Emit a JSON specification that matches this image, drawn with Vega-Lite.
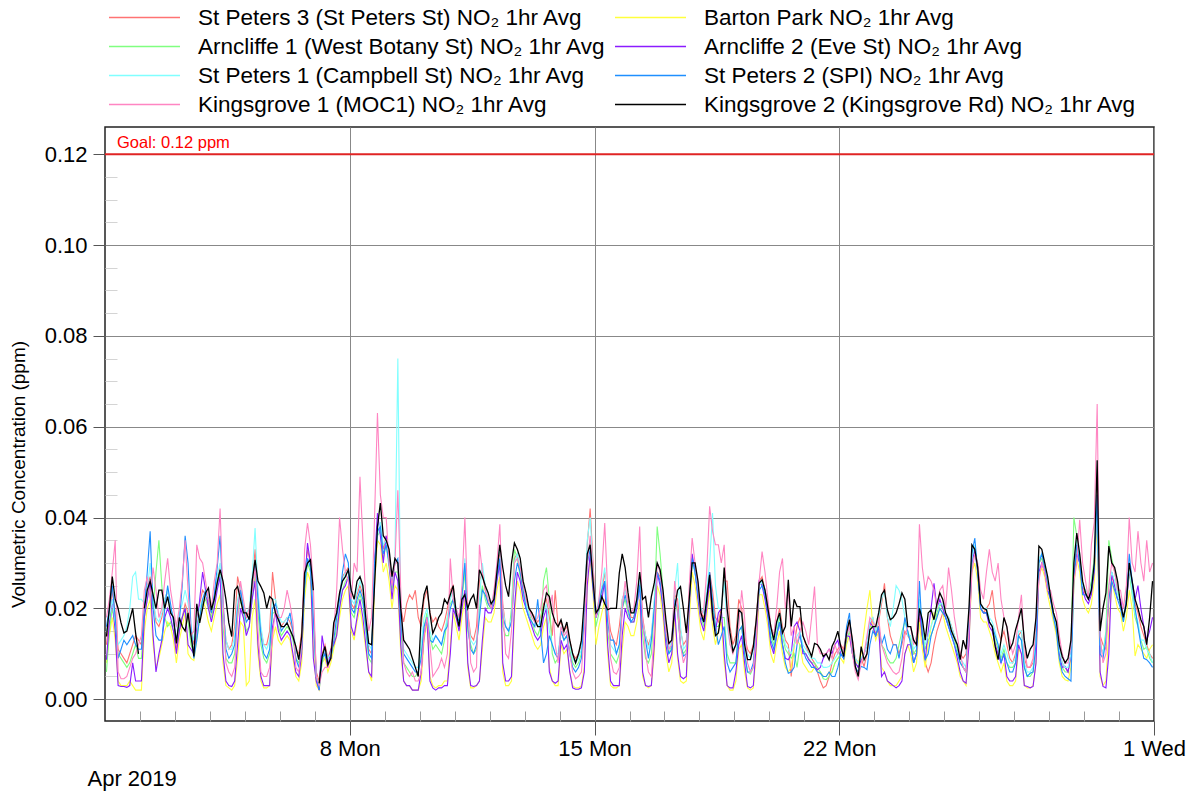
{
"$schema":"https://vega.github.io/schema/vega-lite/v6.json",
"width":1049,"height":594,
"autosize":{"type":"none"},
"padding":{"left":105,"top":127,"right":42,"bottom":73},
"background":"white",
"config":{"font":"Liberation Sans","view":{"stroke":"#222","strokeWidth":1.5},
"axis":{"labelFont":"Liberation Sans","titleFont":"Liberation Sans","labelColor":"#000","titleColor":"#000","titleFontWeight":"normal"}},
"layer":[
{"data":{"format":{"parse":{"t":"utc:'%Y-%m-%d %H'"}},"values":[
{"t":"2019-04-01 01","a":0.012,"b":0.008,"c":0.006,"d":0.0087,"e":0.015,"f":0.016,"g":0.018,"h":0.0138},
{"t":"2019-04-01 03","a":0.018,"b":0.014,"c":0.015,"d":0.017,"e":0.018,"f":0.020,"g":0.022,"h":0.020},
{"t":"2019-04-01 05","a":0.024,"b":0.018,"c":0.020,"d":0.022,"e":0.022,"f":0.025,"g":0.028,"h":0.027},
{"t":"2019-04-01 07","a":0.019,"b":0.013,"c":0.016,"d":0.015,"e":0.017,"f":0.018,"g":0.035,"h":0.022},
{"t":"2019-04-01 09","a":0.011,"b":0.004,"c":0.010,"d":0.003,"e":0.012,"f":0.009,"g":0.006,"h":0.020},
{"t":"2019-04-01 11","a":0.010,"b":0.003,"c":0.009,"d":0.0028,"e":0.013,"f":0.011,"g":0.0045,"h":0.0168},
{"t":"2019-04-01 13","a":0.009,"b":0.003,"c":0.008,"d":0.0028,"e":0.014,"f":0.013,"g":0.0045,"h":0.0146},
{"t":"2019-04-01 15","a":0.008,"b":0.003,"c":0.007,"d":0.0026,"e":0.016,"f":0.012,"g":0.005,"h":0.015},
{"t":"2019-04-01 17","a":0.010,"b":0.004,"c":0.008,"d":0.003,"e":0.020,"f":0.013,"g":0.007,"h":0.0175},
{"t":"2019-04-01 19","a":0.012,"b":0.003,"c":0.010,"d":0.008,"e":0.027,"f":0.014,"g":0.009,"h":0.020},
{"t":"2019-04-01 21","a":0.014,"b":0.002,"c":0.012,"d":0.004,"e":0.028,"f":0.012,"g":0.010,"h":0.0146},
{"t":"2019-04-01 23","a":0.013,"b":0.002,"c":0.009,"d":0.004,"e":0.022,"f":0.011,"g":0.012,"h":0.010},
{"t":"2019-04-02 01","a":0.012,"b":0.002,"c":0.009,"d":0.004,"e":0.022,"f":0.011,"g":0.014,"h":null},
{"t":"2019-04-02 03","a":0.020,"b":0.015,"c":0.018,"d":0.018,"e":0.021,"f":0.020,"g":0.024,"h":0.020},
{"t":"2019-04-02 05","a":0.025,"b":0.020,"c":0.022,"d":0.022,"e":0.024,"f":0.028,"g":0.027,"h":0.024},
{"t":"2019-04-02 07","a":0.027,"b":0.022,"c":0.025,"d":0.026,"e":0.030,"f":0.037,"g":0.022,"h":0.026},
{"t":"2019-04-02 09","a":0.022,"b":0.012,"c":0.020,"d":0.014,"e":0.022,"f":0.020,"g":0.029,"h":0.023},
{"t":"2019-04-02 11","a":0.017,"b":0.007,"c":0.028,"d":0.006,"e":0.018,"f":0.014,"g":0.024,"h":0.020},
{"t":"2019-04-02 13","a":0.016,"b":0.009,"c":0.035,"d":0.010,"e":0.017,"f":0.013,"g":0.018,"h":0.024},
{"t":"2019-04-02 15","a":0.018,"b":0.012,"c":0.025,"d":0.013,"e":0.019,"f":0.013,"g":0.020,"h":0.024},
{"t":"2019-04-02 17","a":0.022,"b":0.015,"c":0.018,"d":0.018,"e":0.022,"f":0.020,"g":0.026,"h":0.020},
{"t":"2019-04-02 19","a":0.024,"b":0.017,"c":0.016,"d":0.020,"e":0.024,"f":0.025,"g":0.031,"h":0.0226},
{"t":"2019-04-02 21","a":0.020,"b":0.016,"c":0.017,"d":0.018,"e":0.020,"f":0.021,"g":0.024,"h":0.019},
{"t":"2019-04-02 23","a":0.018,"b":0.013,"c":0.015,"d":0.015,"e":0.018,"f":0.017,"g":0.020,"h":0.018},
{"t":"2019-04-03 01","a":0.011,"b":0.008,"c":0.013,"d":0.010,"e":0.016,"f":0.013,"g":0.016,"h":0.0123},
{"t":"2019-04-03 03","a":0.015,"b":0.013,"c":0.016,"d":0.015,"e":0.019,"f":0.017,"g":0.020,"h":0.018},
{"t":"2019-04-03 05","a":0.018,"b":0.016,"c":0.018,"d":0.018,"e":0.021,"f":0.025,"g":0.026,"h":0.016},
{"t":"2019-04-03 07","a":0.021,"b":0.019,"c":0.020,"d":0.020,"e":0.024,"f":0.036,"g":0.035,"h":0.015},
{"t":"2019-04-03 09","a":0.019,"b":0.010,"c":0.017,"d":0.012,"e":0.021,"f":0.030,"g":0.024,"h":0.019},
{"t":"2019-04-03 11","a":0.015,"b":0.009,"c":0.012,"d":0.011,"e":0.016,"f":0.016,"g":0.014,"h":0.014},
{"t":"2019-04-03 13","a":0.012,"b":0.0085,"c":0.010,"d":0.010,"e":0.013,"f":0.009,"g":0.015,"h":0.0094},
{"t":"2019-04-03 15","a":0.017,"b":0.013,"c":0.014,"d":0.016,"e":0.017,"f":0.013,"g":0.034,"h":0.021},
{"t":"2019-04-03 17","a":0.021,"b":0.018,"c":0.018,"d":0.022,"e":0.020,"f":0.018,"g":0.031,"h":0.0168},
{"t":"2019-04-03 19","a":0.024,"b":0.022,"c":0.021,"d":0.028,"e":0.022,"f":0.022,"g":0.030,"h":0.020},
{"t":"2019-04-03 21","a":0.023,"b":0.020,"c":0.022,"d":0.024,"e":0.023,"f":0.024,"g":0.026,"h":0.0234},
{"t":"2019-04-03 23","a":0.021,"b":0.017,"c":0.020,"d":0.020,"e":0.022,"f":0.022,"g":0.022,"h":0.0245},
{"t":"2019-04-04 01","a":0.019,"b":0.015,"c":0.018,"d":0.017,"e":0.020,"f":0.019,"g":0.020,"h":0.0197},
{"t":"2019-04-04 03","a":0.022,"b":0.018,"c":0.021,"d":0.020,"e":0.023,"f":0.023,"g":0.026,"h":0.022},
{"t":"2019-04-04 05","a":0.026,"b":0.021,"c":0.025,"d":0.024,"e":0.027,"f":0.029,"g":0.030,"h":0.0256},
{"t":"2019-04-04 07","a":0.029,"b":0.023,"c":0.028,"d":0.027,"e":0.030,"f":0.036,"g":0.042,"h":0.0285},
{"t":"2019-04-04 09","a":0.020,"b":0.008,"c":0.016,"d":0.010,"e":0.020,"f":0.022,"g":0.022,"h":0.026},
{"t":"2019-04-04 11","a":0.013,"b":0.003,"c":0.009,"d":0.004,"e":0.013,"f":0.011,"g":0.008,"h":0.022},
{"t":"2019-04-04 13","a":0.011,"b":0.0025,"c":0.008,"d":0.003,"e":0.011,"f":0.009,"g":0.006,"h":0.0168},
{"t":"2019-04-04 15","a":0.012,"b":0.002,"c":0.008,"d":0.0028,"e":0.011,"f":0.010,"g":0.005,"h":0.0138},
{"t":"2019-04-04 17","a":0.016,"b":0.003,"c":0.010,"d":0.004,"e":0.014,"f":0.012,"g":0.007,"h":0.024},
{"t":"2019-04-04 19","a":0.027,"b":0.009,"c":0.018,"d":0.012,"e":0.022,"f":0.020,"g":0.018,"h":0.0248},
{"t":"2019-04-04 21","a":0.024,"b":0.017,"c":0.022,"d":0.020,"e":0.025,"f":0.024,"g":0.026,"h":0.022},
{"t":"2019-04-04 23","a":0.020,"b":0.016,"c":0.019,"d":0.018,"e":0.021,"f":0.020,"g":0.022,"h":0.019},
{"t":"2019-04-05 01","a":0.018,"b":0.003,"c":0.015,"d":0.014,"e":0.019,"f":0.017,"g":0.018,"h":0.019},
{"t":"2019-04-05 03","a":0.019,"b":0.004,"c":0.016,"d":0.016,"e":0.020,"f":0.018,"g":0.020,"h":0.0175},
{"t":"2019-04-05 05","a":0.025,"b":0.018,"c":0.022,"d":0.022,"e":0.027,"f":0.024,"g":0.024,"h":0.026},
{"t":"2019-04-05 07","a":0.033,"b":0.022,"c":0.027,"d":0.026,"e":0.0377,"f":0.030,"g":0.029,"h":0.0307},
{"t":"2019-04-05 09","a":0.023,"b":0.010,"c":0.019,"d":0.012,"e":0.024,"f":0.022,"g":0.015,"h":0.026},
{"t":"2019-04-05 11","a":0.015,"b":0.004,"c":0.012,"d":0.005,"e":0.016,"f":0.014,"g":0.006,"h":0.0248},
{"t":"2019-04-05 13","a":0.012,"b":0.0025,"c":0.009,"d":0.003,"e":0.012,"f":0.010,"g":0.005,"h":0.0234},
{"t":"2019-04-05 15","a":0.012,"b":0.0025,"c":0.008,"d":0.003,"e":0.011,"f":0.009,"g":0.005,"h":0.020},
{"t":"2019-04-05 17","a":0.015,"b":0.003,"c":0.010,"d":0.003,"e":0.013,"f":0.011,"g":0.007,"h":0.0226},
{"t":"2019-04-05 19","a":0.028,"b":0.013,"c":0.019,"d":0.016,"e":0.022,"f":0.020,"g":0.014,"h":0.022},
{"t":"2019-04-05 21","a":0.022,"b":0.016,"c":0.019,"d":0.019,"e":0.022,"f":0.021,"g":0.020,"h":0.019},
{"t":"2019-04-05 23","a":0.018,"b":0.013,"c":0.016,"d":0.015,"e":0.019,"f":0.018,"g":0.018,"h":0.0175},
{"t":"2019-04-06 01","a":0.016,"b":0.012,"c":0.014,"d":0.013,"e":0.017,"f":0.015,"g":0.018,"h":0.016},
{"t":"2019-04-06 03","a":0.017,"b":0.013,"c":0.015,"d":0.014,"e":0.017,"f":0.016,"g":0.020,"h":0.016},
{"t":"2019-04-06 05","a":0.018,"b":0.014,"c":0.016,"d":0.015,"e":0.018,"f":0.017,"g":0.024,"h":0.0168},
{"t":"2019-04-06 07","a":0.017,"b":0.013,"c":0.015,"d":0.014,"e":0.018,"f":0.019,"g":0.021,"h":0.0153},
{"t":"2019-04-06 09","a":0.015,"b":0.009,"c":0.013,"d":0.010,"e":0.016,"f":0.015,"g":0.017,"h":0.0138},
{"t":"2019-04-06 11","a":0.011,"b":0.005,"c":0.009,"d":0.006,"e":0.011,"f":0.009,"g":0.007,"h":0.0116},
{"t":"2019-04-06 13","a":0.010,"b":0.004,"c":0.008,"d":0.005,"e":0.009,"f":0.007,"g":0.006,"h":0.0087},
{"t":"2019-04-06 15","a":0.015,"b":0.008,"c":0.011,"d":0.010,"e":0.013,"f":0.011,"g":0.012,"h":0.0138},
{"t":"2019-04-06 17","a":0.027,"b":0.022,"c":0.024,"d":0.025,"e":0.026,"f":0.025,"g":0.033,"h":0.0278},
{"t":"2019-04-06 19","a":0.033,"b":0.028,"c":0.030,"d":0.0344,"e":0.031,"f":0.031,"g":0.0388,"h":0.030},
{"t":"2019-04-06 21","a":0.030,"b":0.026,"c":0.028,"d":0.030,"e":0.029,"f":0.029,"g":0.034,"h":0.0307},
{"t":"2019-04-06 23","a":0.021,"b":0.011,"c":0.017,"d":0.009,"e":0.020,"f":0.018,"g":0.025,"h":0.024},
{"t":"2019-04-07 01","a":0.006,"b":0.003,"c":0.005,"d":0.004,"e":0.005,"f":0.005,"g":0.005,"h":null},
{"t":"2019-04-07 03","a":0.004,"b":0.002,"c":0.003,"d":0.002,"e":0.003,"f":0.002,"g":0.003,"h":0.0035},
{"t":"2019-04-07 05","a":0.010,"b":0.008,"c":0.008,"d":0.014,"e":0.009,"f":0.009,"g":0.006,"h":0.0094},
{"t":"2019-04-07 07","a":0.012,"b":0.009,"c":0.010,"d":0.010,"e":0.011,"f":0.010,"g":0.007,"h":0.0116},
{"t":"2019-04-07 09","a":0.009,"b":0.006,"c":0.008,"d":0.007,"e":0.009,"f":0.008,"g":0.007,"h":0.0076},
{"t":"2019-04-07 11","a":0.011,"b":0.008,"c":0.009,"d":0.011,"e":0.010,"f":0.009,"g":0.009,"h":0.009},
{"t":"2019-04-07 13","a":0.015,"b":0.011,"c":0.012,"d":0.012,"e":0.014,"f":0.013,"g":0.015,"h":0.0168},
{"t":"2019-04-07 15","a":0.019,"b":0.014,"c":0.016,"d":0.014,"e":0.018,"f":0.018,"g":0.024,"h":0.019},
{"t":"2019-04-07 17","a":0.023,"b":0.018,"c":0.020,"d":0.020,"e":0.022,"f":0.022,"g":0.040,"h":0.0234},
{"t":"2019-04-07 19","a":0.027,"b":0.022,"c":0.024,"d":0.024,"e":0.026,"f":0.028,"g":0.033,"h":0.026},
{"t":"2019-04-07 21","a":0.028,"b":0.024,"c":0.026,"d":0.025,"e":0.028,"f":0.032,"g":0.028,"h":0.027},
{"t":"2019-04-07 23","a":0.029,"b":0.025,"c":0.027,"d":0.027,"e":0.028,"f":0.030,"g":0.026,"h":0.0285},
{"t":"2019-04-08 01","a":0.021,"b":0.015,"c":0.019,"d":0.016,"e":0.022,"f":0.020,"g":0.022,"h":0.024},
{"t":"2019-04-08 03","a":0.020,"b":0.013,"c":0.018,"d":0.014,"e":0.021,"f":0.019,"g":0.030,"h":0.022},
{"t":"2019-04-08 05","a":0.023,"b":0.017,"c":0.021,"d":0.018,"e":0.024,"f":0.022,"g":0.028,"h":0.026},
{"t":"2019-04-08 07","a":0.025,"b":0.020,"c":0.023,"d":0.022,"e":0.026,"f":0.024,"g":0.049,"h":0.027},
{"t":"2019-04-08 09","a":0.023,"b":0.016,"c":0.021,"d":0.018,"e":0.024,"f":0.022,"g":0.035,"h":0.025},
{"t":"2019-04-08 11","a":0.017,"b":0.011,"c":0.015,"d":0.012,"e":0.018,"f":0.016,"g":0.022,"h":0.018},
{"t":"2019-04-08 13","a":0.011,"b":0.006,"c":0.009,"d":0.006,"e":0.012,"f":0.010,"g":0.015,"h":0.0123},
{"t":"2019-04-08 15","a":0.010,"b":0.004,"c":0.008,"d":0.005,"e":0.011,"f":0.009,"g":0.018,"h":0.012},
{"t":"2019-04-08 17","a":0.028,"b":0.025,"c":0.028,"d":0.030,"e":0.029,"f":0.030,"g":0.040,"h":0.025},
{"t":"2019-04-08 19","a":0.037,"b":0.035,"c":0.036,"d":0.041,"e":0.036,"f":0.037,"g":0.063,"h":0.038},
{"t":"2019-04-08 21","a":0.038,"b":0.034,"c":0.037,"d":0.036,"e":0.039,"f":0.038,"g":0.045,"h":0.0432},
{"t":"2019-04-08 23","a":0.033,"b":0.028,"c":0.031,"d":0.030,"e":0.034,"f":0.032,"g":0.040,"h":0.036},
{"t":"2019-04-09 01","a":0.036,"b":0.030,"c":0.034,"d":0.036,"e":0.035,"f":0.034,"g":0.040,"h":0.035},
{"t":"2019-04-09 03","a":0.031,"b":0.026,"c":0.029,"d":0.030,"e":0.030,"f":0.030,"g":0.030,"h":0.033},
{"t":"2019-04-09 05","a":0.026,"b":0.020,"c":0.024,"d":0.022,"e":0.026,"f":0.025,"g":0.025,"h":0.027},
{"t":"2019-04-09 07","a":0.030,"b":0.025,"c":0.028,"d":0.028,"e":0.031,"f":0.030,"g":0.030,"h":0.031},
{"t":"2019-04-09 09","a":0.030,"b":0.024,"c":0.028,"d":0.026,"e":0.075,"f":0.031,"g":0.046,"h":0.030},
{"t":"2019-04-09 11","a":0.020,"b":0.010,"c":0.015,"d":0.012,"e":0.018,"f":0.017,"g":0.024,"h":0.020},
{"t":"2019-04-09 13","a":0.017,"b":0.004,"c":0.008,"d":0.004,"e":0.011,"f":0.010,"g":0.008,"h":0.013},
{"t":"2019-04-09 15","a":0.021,"b":0.003,"c":0.007,"d":0.003,"e":0.010,"f":0.009,"g":0.006,"h":0.012},
{"t":"2019-04-09 17","a":0.023,"b":0.003,"c":0.006,"d":0.003,"e":0.009,"f":0.008,"g":0.005,"h":0.011},
{"t":"2019-04-09 19","a":0.022,"b":0.002,"c":0.005,"d":0.002,"e":0.008,"f":0.007,"g":0.006,"h":0.009},
{"t":"2019-04-09 21","a":0.024,"b":0.002,"c":0.005,"d":0.002,"e":0.007,"f":0.006,"g":0.004,"h":0.007},
{"t":"2019-04-09 23","a":0.018,"b":0.002,"c":0.006,"d":0.002,"e":0.007,"f":0.006,"g":0.004,"h":0.005},
{"t":"2019-04-10 01","a":0.016,"b":0.004,"c":0.010,"d":0.006,"e":0.012,"f":0.009,"g":0.006,"h":0.018},
{"t":"2019-04-10 03","a":0.022,"b":0.013,"c":0.016,"d":0.014,"e":0.018,"f":0.016,"g":0.014,"h":0.023},
{"t":"2019-04-10 05","a":0.024,"b":0.017,"c":0.019,"d":0.018,"e":0.020,"f":0.018,"g":0.018,"h":0.025},
{"t":"2019-04-10 07","a":0.019,"b":0.005,"c":0.014,"d":0.004,"e":0.015,"f":0.013,"g":0.012,"h":0.019},
{"t":"2019-04-10 09","a":0.017,"b":0.003,"c":0.011,"d":0.0025,"e":0.013,"f":0.0125,"g":0.005,"h":0.0145},
{"t":"2019-04-10 11","a":0.018,"b":0.0025,"c":0.012,"d":0.002,"e":0.014,"f":0.014,"g":0.006,"h":0.016},
{"t":"2019-04-10 13","a":0.016,"b":0.003,"c":0.011,"d":0.0025,"e":0.013,"f":0.013,"g":0.007,"h":0.018},
{"t":"2019-04-10 15","a":0.015,"b":0.003,"c":0.010,"d":0.0025,"e":0.012,"f":0.012,"g":0.009,"h":0.019},
{"t":"2019-04-10 17","a":0.017,"b":0.004,"c":0.013,"d":0.003,"e":0.015,"f":0.015,"g":0.007,"h":0.022},
{"t":"2019-04-10 19","a":0.020,"b":0.004,"c":0.018,"d":0.003,"e":0.018,"f":0.016,"g":0.010,"h":0.021},
{"t":"2019-04-10 21","a":0.024,"b":0.012,"c":0.021,"d":0.010,"e":0.022,"f":0.020,"g":0.031,"h":0.023},
{"t":"2019-04-10 23","a":0.025,"b":0.019,"c":0.022,"d":0.020,"e":0.024,"f":0.022,"g":0.022,"h":0.025},
{"t":"2019-04-11 01","a":0.019,"b":0.016,"c":0.018,"d":0.018,"e":0.020,"f":0.019,"g":0.020,"h":0.019},
{"t":"2019-04-11 03","a":0.018,"b":0.013,"c":0.016,"d":0.015,"e":0.018,"f":0.017,"g":0.018,"h":0.016},
{"t":"2019-04-11 05","a":0.023,"b":0.018,"c":0.022,"d":0.020,"e":0.024,"f":0.023,"g":0.025,"h":0.022},
{"t":"2019-04-11 07","a":0.029,"b":0.022,"c":0.028,"d":0.024,"e":0.031,"f":0.030,"g":0.040,"h":0.023},
{"t":"2019-04-11 09","a":0.019,"b":0.007,"c":0.015,"d":0.008,"e":0.018,"f":0.016,"g":0.020,"h":0.020},
{"t":"2019-04-11 11","a":0.014,"b":0.0025,"c":0.012,"d":0.003,"e":0.013,"f":0.011,"g":0.008,"h":0.022},
{"t":"2019-04-11 13","a":0.013,"b":0.0025,"c":0.010,"d":0.0028,"e":0.012,"f":0.010,"g":0.006,"h":0.023},
{"t":"2019-04-11 15","a":0.016,"b":0.003,"c":0.011,"d":0.003,"e":0.013,"f":0.012,"g":0.007,"h":0.020},
{"t":"2019-04-11 17","a":0.026,"b":0.004,"c":0.020,"d":0.004,"e":0.022,"f":0.018,"g":0.034,"h":0.0285},
{"t":"2019-04-11 19","a":0.028,"b":0.011,"c":0.025,"d":0.013,"e":0.030,"f":0.024,"g":0.028,"h":0.027},
{"t":"2019-04-11 21","a":0.024,"b":0.018,"c":0.022,"d":0.020,"e":0.025,"f":0.023,"g":0.024,"h":0.025},
{"t":"2019-04-11 23","a":0.021,"b":0.017,"c":0.020,"d":0.019,"e":0.022,"f":0.021,"g":0.022,"h":0.0234},
{"t":"2019-04-12 01","a":0.020,"b":0.017,"c":0.020,"d":0.019,"e":0.021,"f":0.020,"g":0.020,"h":0.021},
{"t":"2019-04-12 03","a":0.022,"b":0.019,"c":0.022,"d":0.021,"e":0.023,"f":0.022,"g":0.024,"h":0.022},
{"t":"2019-04-12 05","a":0.028,"b":0.024,"c":0.027,"d":0.026,"e":0.029,"f":0.027,"g":0.030,"h":0.028},
{"t":"2019-04-12 07","a":0.033,"b":0.027,"c":0.030,"d":0.030,"e":0.034,"f":0.031,"g":0.0385,"h":0.034},
{"t":"2019-04-12 09","a":0.021,"b":0.006,"c":0.016,"d":0.008,"e":0.020,"f":0.018,"g":0.020,"h":0.029},
{"t":"2019-04-12 11","a":0.016,"b":0.003,"c":0.014,"d":0.004,"e":0.016,"f":0.016,"g":0.010,"h":0.025},
{"t":"2019-04-12 13","a":0.015,"b":0.003,"c":0.014,"d":0.004,"e":0.015,"f":0.015,"g":0.009,"h":0.0226},
{"t":"2019-04-12 15","a":0.018,"b":0.004,"c":0.020,"d":0.005,"e":0.018,"f":0.017,"g":0.015,"h":0.030},
{"t":"2019-04-12 17","a":0.031,"b":0.018,"c":0.033,"d":0.020,"e":0.030,"f":0.026,"g":0.030,"h":0.0344},
{"t":"2019-04-12 19","a":0.032,"b":0.026,"c":0.031,"d":0.028,"e":0.032,"f":0.030,"g":0.031,"h":0.033},
{"t":"2019-04-12 21","a":0.028,"b":0.024,"c":0.027,"d":0.026,"e":0.029,"f":0.028,"g":0.029,"h":0.031},
{"t":"2019-04-12 23","a":0.024,"b":0.020,"c":0.023,"d":0.022,"e":0.025,"f":0.024,"g":0.025,"h":0.026},
{"t":"2019-04-13 01","a":0.022,"b":0.018,"c":0.021,"d":0.020,"e":0.021,"f":0.020,"g":0.022,"h":0.0234},
{"t":"2019-04-13 03","a":0.020,"b":0.016,"c":0.019,"d":0.018,"e":0.019,"f":0.018,"g":0.020,"h":0.020},
{"t":"2019-04-13 05","a":0.019,"b":0.014,"c":0.017,"d":0.016,"e":0.018,"f":0.017,"g":0.018,"h":0.019},
{"t":"2019-04-13 07","a":0.018,"b":0.012,"c":0.015,"d":0.014,"e":0.017,"f":0.016,"g":0.017,"h":0.0175},
{"t":"2019-04-13 09","a":0.017,"b":0.011,"c":0.014,"d":0.013,"e":0.016,"f":0.022,"g":0.018,"h":0.016},
{"t":"2019-04-13 11","a":0.018,"b":0.012,"c":0.016,"d":0.014,"e":0.017,"f":0.015,"g":0.020,"h":0.016},
{"t":"2019-04-13 13","a":0.021,"b":0.016,"c":0.026,"d":0.018,"e":0.019,"f":0.008,"g":0.024,"h":0.020},
{"t":"2019-04-13 15","a":0.022,"b":0.018,"c":0.029,"d":0.020,"e":0.021,"f":0.010,"g":0.025,"h":0.0234},
{"t":"2019-04-13 17","a":0.018,"b":0.007,"c":0.022,"d":0.006,"e":0.015,"f":0.014,"g":0.020,"h":0.0226},
{"t":"2019-04-13 19","a":0.014,"b":0.004,"c":0.010,"d":0.004,"e":0.012,"f":0.012,"g":0.023,"h":0.019},
{"t":"2019-04-13 21","a":0.024,"b":0.003,"c":0.008,"d":0.0035,"e":0.010,"f":0.010,"g":0.012,"h":0.017},
{"t":"2019-04-13 23","a":0.016,"b":0.003,"c":0.009,"d":0.004,"e":0.010,"f":0.009,"g":0.008,"h":0.016},
{"t":"2019-04-14 01","a":0.017,"b":0.012,"c":0.015,"d":0.013,"e":0.016,"f":0.015,"g":0.016,"h":0.0175},
{"t":"2019-04-14 03","a":0.015,"b":0.010,"c":0.013,"d":0.011,"e":0.014,"f":0.013,"g":0.014,"h":0.015},
{"t":"2019-04-14 05","a":0.016,"b":0.011,"c":0.014,"d":0.012,"e":0.015,"f":0.014,"g":0.015,"h":0.017},
{"t":"2019-04-14 07","a":0.013,"b":0.006,"c":0.011,"d":0.006,"e":0.012,"f":0.010,"g":0.010,"h":0.013},
{"t":"2019-04-14 09","a":0.010,"b":0.003,"c":0.008,"d":0.0025,"e":0.009,"f":0.007,"g":0.006,"h":0.010},
{"t":"2019-04-14 11","a":0.009,"b":0.0025,"c":0.007,"d":0.0022,"e":0.008,"f":0.006,"g":0.0045,"h":0.008},
{"t":"2019-04-14 13","a":0.010,"b":0.0025,"c":0.008,"d":0.0022,"e":0.009,"f":0.007,"g":0.005,"h":0.010},
{"t":"2019-04-14 15","a":0.012,"b":0.003,"c":0.010,"d":0.0025,"e":0.011,"f":0.009,"g":0.006,"h":0.013},
{"t":"2019-04-14 17","a":0.020,"b":0.007,"c":0.018,"d":0.006,"e":0.020,"f":0.018,"g":0.015,"h":0.022},
{"t":"2019-04-14 19","a":0.034,"b":0.024,"c":0.030,"d":0.025,"e":0.035,"f":0.030,"g":0.030,"h":0.032},
{"t":"2019-04-14 21","a":0.042,"b":0.031,"c":0.035,"d":0.032,"e":0.040,"f":0.033,"g":0.036,"h":0.034},
{"t":"2019-04-14 23","a":0.030,"b":0.023,"c":0.026,"d":0.024,"e":0.028,"f":0.025,"g":0.028,"h":0.026},
{"t":"2019-04-15 01","a":0.018,"b":0.012,"c":0.016,"d":0.018,"e":0.019,"f":0.018,"g":0.018,"h":0.019},
{"t":"2019-04-15 03","a":0.021,"b":0.016,"c":0.019,"d":0.020,"e":0.022,"f":0.021,"g":0.022,"h":0.020},
{"t":"2019-04-15 05","a":0.024,"b":0.019,"c":0.023,"d":0.022,"e":0.025,"f":0.024,"g":0.028,"h":0.0226},
{"t":"2019-04-15 07","a":0.028,"b":0.022,"c":0.026,"d":0.026,"e":0.029,"f":0.026,"g":0.0388,"h":0.021},
{"t":"2019-04-15 09","a":0.020,"b":0.010,"c":0.015,"d":0.012,"e":0.018,"f":0.017,"g":0.024,"h":0.0197},
{"t":"2019-04-15 11","a":0.015,"b":0.003,"c":0.010,"d":0.004,"e":0.012,"f":0.013,"g":0.009,"h":0.020},
{"t":"2019-04-15 13","a":0.013,"b":0.0025,"c":0.009,"d":0.003,"e":0.011,"f":0.013,"g":0.006,"h":0.020},
{"t":"2019-04-15 15","a":0.012,"b":0.0025,"c":0.008,"d":0.003,"e":0.010,"f":0.010,"g":0.0055,"h":0.020},
{"t":"2019-04-15 17","a":0.016,"b":0.003,"c":0.010,"d":0.003,"e":0.012,"f":0.012,"g":0.007,"h":0.0278},
{"t":"2019-04-15 19","a":0.022,"b":0.011,"c":0.020,"d":0.014,"e":0.022,"f":0.020,"g":0.020,"h":0.032},
{"t":"2019-04-15 21","a":0.024,"b":0.017,"c":0.022,"d":0.020,"e":0.024,"f":0.023,"g":0.026,"h":0.029},
{"t":"2019-04-15 23","a":0.022,"b":0.016,"c":0.019,"d":0.018,"e":0.021,"f":0.020,"g":0.020,"h":0.0234},
{"t":"2019-04-16 01","a":0.018,"b":0.014,"c":0.017,"d":0.017,"e":0.019,"f":0.017,"g":0.019,"h":0.019},
{"t":"2019-04-16 03","a":0.018,"b":0.014,"c":0.017,"d":0.017,"e":0.019,"f":0.018,"g":0.020,"h":0.019},
{"t":"2019-04-16 05","a":0.021,"b":0.017,"c":0.020,"d":0.020,"e":0.022,"f":0.021,"g":0.026,"h":0.022},
{"t":"2019-04-16 07","a":0.027,"b":0.022,"c":0.026,"d":0.026,"e":0.027,"f":0.025,"g":0.038,"h":0.028},
{"t":"2019-04-16 09","a":0.018,"b":0.005,"c":0.014,"d":0.006,"e":0.017,"f":0.016,"g":0.018,"h":0.022},
{"t":"2019-04-16 11","a":0.014,"b":0.003,"c":0.009,"d":0.003,"e":0.014,"f":0.013,"g":0.010,"h":0.0226},
{"t":"2019-04-16 13","a":0.012,"b":0.0025,"c":0.008,"d":0.0028,"e":0.011,"f":0.009,"g":0.006,"h":0.018},
{"t":"2019-04-16 15","a":0.014,"b":0.003,"c":0.010,"d":0.003,"e":0.014,"f":0.013,"g":0.005,"h":0.0226},
{"t":"2019-04-16 17","a":0.021,"b":0.010,"c":0.020,"d":0.012,"e":0.022,"f":0.020,"g":0.015,"h":0.0256},
{"t":"2019-04-16 19","a":0.028,"b":0.025,"c":0.038,"d":0.028,"e":0.030,"f":0.028,"g":0.030,"h":0.030},
{"t":"2019-04-16 21","a":0.027,"b":0.023,"c":0.032,"d":0.025,"e":0.028,"f":0.026,"g":0.028,"h":0.0285},
{"t":"2019-04-16 23","a":0.022,"b":0.018,"c":0.024,"d":0.020,"e":0.022,"f":0.021,"g":0.022,"h":0.024},
{"t":"2019-04-17 01","a":0.016,"b":0.010,"c":0.014,"d":0.012,"e":0.015,"f":0.014,"g":0.015,"h":0.0175},
{"t":"2019-04-17 03","a":0.012,"b":0.006,"c":0.010,"d":0.008,"e":0.011,"f":0.010,"g":0.011,"h":0.0123},
{"t":"2019-04-17 05","a":0.013,"b":0.008,"c":0.012,"d":0.010,"e":0.013,"f":0.011,"g":0.012,"h":0.013},
{"t":"2019-04-17 07","a":0.023,"b":0.018,"c":0.022,"d":0.020,"e":0.024,"f":0.022,"g":0.026,"h":0.020},
{"t":"2019-04-17 09","a":0.022,"b":0.009,"c":0.019,"d":0.010,"e":0.030,"f":0.020,"g":0.020,"h":0.024},
{"t":"2019-04-17 11","a":0.015,"b":0.004,"c":0.012,"d":0.005,"e":0.016,"f":0.012,"g":0.012,"h":0.0248},
{"t":"2019-04-17 13","a":0.012,"b":0.0035,"c":0.010,"d":0.0045,"e":0.011,"f":0.0095,"g":0.008,"h":0.020},
{"t":"2019-04-17 15","a":0.013,"b":0.004,"c":0.011,"d":0.005,"e":0.012,"f":0.010,"g":0.010,"h":0.0146},
{"t":"2019-04-17 17","a":0.023,"b":0.017,"c":0.022,"d":0.020,"e":0.022,"f":0.022,"g":0.025,"h":0.022},
{"t":"2019-04-17 19","a":0.031,"b":0.028,"c":0.031,"d":0.032,"e":0.030,"f":0.031,"g":0.0355,"h":0.030},
{"t":"2019-04-17 21","a":0.029,"b":0.025,"c":0.028,"d":0.028,"e":0.028,"f":0.028,"g":0.030,"h":0.030},
{"t":"2019-04-17 23","a":0.024,"b":0.020,"c":0.023,"d":0.022,"e":0.024,"f":0.023,"g":0.025,"h":0.026},
{"t":"2019-04-18 01","a":0.019,"b":0.015,"c":0.018,"d":0.017,"e":0.020,"f":0.018,"g":0.018,"h":0.019},
{"t":"2019-04-18 03","a":0.018,"b":0.013,"c":0.016,"d":0.015,"e":0.019,"f":0.017,"g":0.020,"h":0.017},
{"t":"2019-04-18 05","a":0.022,"b":0.018,"c":0.021,"d":0.020,"e":0.024,"f":0.022,"g":0.028,"h":0.022},
{"t":"2019-04-18 07","a":0.028,"b":0.024,"c":0.027,"d":0.026,"e":0.030,"f":0.028,"g":0.0425,"h":0.0274},
{"t":"2019-04-18 09","a":0.024,"b":0.016,"c":0.021,"d":0.018,"e":0.041,"f":0.022,"g":0.037,"h":0.019},
{"t":"2019-04-18 11","a":0.018,"b":0.012,"c":0.016,"d":0.015,"e":0.025,"f":0.016,"g":0.034,"h":0.014},
{"t":"2019-04-18 13","a":0.017,"b":0.015,"c":0.016,"d":0.019,"e":0.020,"f":0.012,"g":0.034,"h":0.0146},
{"t":"2019-04-18 15","a":0.020,"b":0.017,"c":0.018,"d":0.020,"e":0.020,"f":0.014,"g":0.030,"h":0.019},
{"t":"2019-04-18 17","a":0.026,"b":0.008,"c":0.018,"d":0.010,"e":0.026,"f":0.016,"g":0.034,"h":0.029},
{"t":"2019-04-18 19","a":0.026,"b":0.003,"c":0.010,"d":0.003,"e":0.016,"f":0.008,"g":0.018,"h":0.020},
{"t":"2019-04-18 21","a":0.016,"b":0.002,"c":0.008,"d":0.0025,"e":0.012,"f":0.006,"g":0.012,"h":0.0146},
{"t":"2019-04-18 23","a":0.012,"b":0.002,"c":0.008,"d":0.0025,"e":0.011,"f":0.007,"g":0.010,"h":0.0105},
{"t":"2019-04-19 01","a":0.014,"b":0.004,"c":0.008,"d":0.006,"e":0.012,"f":0.008,"g":0.012,"h":0.012},
{"t":"2019-04-19 03","a":0.022,"b":0.011,"c":0.015,"d":0.012,"e":0.019,"f":0.015,"g":0.016,"h":0.0197},
{"t":"2019-04-19 05","a":0.020,"b":0.012,"c":0.016,"d":0.014,"e":0.019,"f":0.016,"g":0.024,"h":0.019},
{"t":"2019-04-19 07","a":0.014,"b":0.006,"c":0.010,"d":0.008,"e":0.013,"f":0.010,"g":0.018,"h":0.012},
{"t":"2019-04-19 09","a":0.011,"b":0.0025,"c":0.006,"d":0.0028,"e":0.010,"f":0.006,"g":0.008,"h":0.0087},
{"t":"2019-04-19 11","a":0.010,"b":0.002,"c":0.0055,"d":0.0025,"e":0.009,"f":0.006,"g":0.006,"h":0.0087},
{"t":"2019-04-19 13","a":0.012,"b":0.0025,"c":0.007,"d":0.003,"e":0.011,"f":0.008,"g":0.007,"h":0.0116},
{"t":"2019-04-19 15","a":0.018,"b":0.010,"c":0.015,"d":0.012,"e":0.017,"f":0.016,"g":0.014,"h":0.0175},
{"t":"2019-04-19 17","a":0.026,"b":0.023,"c":0.025,"d":0.026,"e":0.025,"f":0.024,"g":0.026,"h":0.0256},
{"t":"2019-04-19 19","a":0.027,"b":0.023,"c":0.026,"d":0.025,"e":0.026,"f":0.025,"g":0.0325,"h":0.0263},
{"t":"2019-04-19 21","a":0.024,"b":0.020,"c":0.023,"d":0.022,"e":0.024,"f":0.023,"g":0.028,"h":0.024},
{"t":"2019-04-19 23","a":0.021,"b":0.016,"c":0.019,"d":0.018,"e":0.020,"f":0.019,"g":0.022,"h":0.020},
{"t":"2019-04-20 01","a":0.016,"b":0.010,"c":0.014,"d":0.012,"e":0.015,"f":0.013,"g":0.016,"h":0.016},
{"t":"2019-04-20 03","a":0.014,"b":0.008,"c":0.012,"d":0.010,"e":0.013,"f":0.011,"g":0.014,"h":0.013},
{"t":"2019-04-20 05","a":0.017,"b":0.012,"c":0.015,"d":0.014,"e":0.016,"f":0.014,"g":0.020,"h":0.017},
{"t":"2019-04-20 07","a":0.020,"b":0.015,"c":0.018,"d":0.017,"e":0.019,"f":0.017,"g":0.028,"h":0.019},
{"t":"2019-04-20 09","a":0.016,"b":0.010,"c":0.014,"d":0.012,"e":0.015,"f":0.012,"g":0.031,"h":0.0146},
{"t":"2019-04-20 11","a":0.013,"b":0.007,"c":0.011,"d":0.009,"e":0.012,"f":0.008,"g":0.020,"h":0.016},
{"t":"2019-04-20 13","a":0.012,"b":0.006,"c":0.010,"d":0.0087,"e":0.011,"f":0.0057,"g":0.024,"h":0.0263},
{"t":"2019-04-20 15","a":0.005,"b":0.007,"c":0.009,"d":0.010,"e":0.010,"f":0.006,"g":0.014,"h":0.016},
{"t":"2019-04-20 17","a":0.012,"b":0.012,"c":0.010,"d":0.016,"e":0.012,"f":0.007,"g":0.016,"h":0.022},
{"t":"2019-04-20 19","a":0.016,"b":0.013,"c":0.007,"d":0.017,"e":0.014,"f":0.012,"g":0.012,"h":0.0204},
{"t":"2019-04-20 21","a":0.018,"b":0.012,"c":0.012,"d":0.015,"e":0.015,"f":0.014,"g":0.015,"h":0.0204},
{"t":"2019-04-20 23","a":0.014,"b":0.008,"c":0.011,"d":0.010,"e":0.012,"f":0.011,"g":0.017,"h":0.014},
{"t":"2019-04-21 01","a":0.012,"b":0.007,"c":0.010,"d":0.010,"e":0.011,"f":0.009,"g":0.015,"h":0.0123},
{"t":"2019-04-21 03","a":0.010,"b":0.006,"c":0.009,"d":0.0087,"e":0.010,"f":0.008,"g":0.012,"h":0.011},
{"t":"2019-04-21 05","a":0.009,"b":0.006,"c":0.008,"d":0.008,"e":0.009,"f":0.007,"g":0.018,"h":0.0094},
{"t":"2019-04-21 07","a":0.008,"b":0.007,"c":0.008,"d":0.007,"e":0.009,"f":0.007,"g":0.0248,"h":0.0123},
{"t":"2019-04-21 09","a":0.006,"b":0.006,"c":0.007,"d":0.0065,"e":0.008,"f":0.006,"g":0.012,"h":0.012},
{"t":"2019-04-21 11","a":0.004,"b":0.006,"c":0.006,"d":0.007,"e":0.008,"f":0.0057,"g":0.010,"h":0.011},
{"t":"2019-04-21 13","a":0.0025,"b":0.005,"c":0.0045,"d":0.009,"e":0.007,"f":0.005,"g":0.010,"h":0.0094},
{"t":"2019-04-21 15","a":0.003,"b":0.005,"c":0.0043,"d":0.010,"e":0.007,"f":0.005,"g":0.010,"h":0.010},
{"t":"2019-04-21 17","a":0.005,"b":0.006,"c":0.005,"d":0.011,"e":0.0072,"f":0.006,"g":0.011,"h":0.0087},
{"t":"2019-04-21 19","a":0.008,"b":0.006,"c":0.006,"d":0.010,"e":0.008,"f":0.005,"g":0.009,"h":0.0116},
{"t":"2019-04-21 21","a":0.010,"b":0.008,"c":0.008,"d":0.012,"e":0.009,"f":0.005,"g":0.012,"h":0.013},
{"t":"2019-04-21 23","a":0.011,"b":0.009,"c":0.009,"d":0.013,"e":0.010,"f":0.007,"g":0.010,"h":0.015},
{"t":"2019-04-22 01","a":0.012,"b":0.009,"c":0.010,"d":0.010,"e":0.011,"f":0.010,"g":0.012,"h":0.0116},
{"t":"2019-04-22 03","a":0.011,"b":0.008,"c":0.009,"d":0.009,"e":0.010,"f":0.009,"g":0.010,"h":0.0094},
{"t":"2019-04-22 05","a":0.015,"b":0.012,"c":0.013,"d":0.014,"e":0.014,"f":0.016,"g":0.014,"h":0.0146},
{"t":"2019-04-22 07","a":0.017,"b":0.014,"c":0.015,"d":0.0138,"e":0.016,"f":0.019,"g":0.016,"h":0.0175},
{"t":"2019-04-22 09","a":0.013,"b":0.010,"c":0.011,"d":0.010,"e":0.012,"f":0.010,"g":0.010,"h":0.013},
{"t":"2019-04-22 11","a":0.009,"b":0.008,"c":0.008,"d":0.008,"e":0.009,"f":0.007,"g":0.006,"h":0.0072},
{"t":"2019-04-22 13","a":0.008,"b":0.008,"c":0.007,"d":0.007,"e":0.008,"f":0.006,"g":0.0043,"h":0.005},
{"t":"2019-04-22 15","a":0.009,"b":0.010,"c":0.009,"d":0.0087,"e":0.009,"f":0.0072,"g":0.008,"h":0.0116},
{"t":"2019-04-22 17","a":0.0072,"b":0.015,"c":0.010,"d":0.010,"e":0.010,"f":0.007,"g":0.010,"h":0.0087},
{"t":"2019-04-22 19","a":0.010,"b":0.020,"c":0.012,"d":0.012,"e":0.012,"f":0.0065,"g":0.014,"h":0.010},
{"t":"2019-04-22 21","a":0.016,"b":0.024,"c":0.016,"d":0.017,"e":0.017,"f":0.012,"g":0.018,"h":0.0153},
{"t":"2019-04-22 23","a":0.018,"b":0.016,"c":0.016,"d":0.016,"e":0.018,"f":0.015,"g":0.017,"h":0.016},
{"t":"2019-04-23 01","a":0.014,"b":0.013,"c":0.014,"d":0.014,"e":0.015,"f":0.014,"g":0.016,"h":0.016},
{"t":"2019-04-23 03","a":0.017,"b":0.015,"c":0.016,"d":0.016,"e":0.018,"f":0.016,"g":0.018,"h":0.019},
{"t":"2019-04-23 05","a":0.021,"b":0.007,"c":0.012,"d":0.005,"e":0.022,"f":0.012,"g":0.012,"h":0.023},
{"t":"2019-04-23 07","a":0.0255,"b":0.006,"c":0.011,"d":0.006,"e":0.024,"f":0.014,"g":0.010,"h":0.024},
{"t":"2019-04-23 09","a":0.018,"b":0.004,"c":0.009,"d":0.004,"e":0.018,"f":0.011,"g":0.008,"h":0.0197},
{"t":"2019-04-23 11","a":0.014,"b":0.003,"c":0.008,"d":0.0035,"e":0.016,"f":0.010,"g":0.007,"h":0.0175},
{"t":"2019-04-23 13","a":0.012,"b":0.003,"c":0.008,"d":0.003,"e":0.020,"f":0.012,"g":0.006,"h":0.018},
{"t":"2019-04-23 15","a":0.012,"b":0.003,"c":0.009,"d":0.0025,"e":0.025,"f":0.012,"g":0.0055,"h":0.019},
{"t":"2019-04-23 17","a":0.010,"b":0.004,"c":0.012,"d":0.003,"e":0.024,"f":0.009,"g":0.006,"h":0.021},
{"t":"2019-04-23 19","a":0.012,"b":0.005,"c":0.015,"d":0.004,"e":0.022,"f":0.013,"g":0.009,"h":0.0234},
{"t":"2019-04-23 21","a":0.015,"b":0.010,"c":0.017,"d":0.010,"e":0.018,"f":0.018,"g":0.014,"h":0.022},
{"t":"2019-04-23 23","a":0.014,"b":0.012,"c":0.015,"d":0.012,"e":0.014,"f":0.015,"g":0.016,"h":0.016},
{"t":"2019-04-24 01","a":0.013,"b":0.010,"c":0.013,"d":0.012,"e":0.014,"f":0.012,"g":0.016,"h":0.016},
{"t":"2019-04-24 03","a":0.010,"b":0.006,"c":0.010,"d":0.008,"e":0.011,"f":0.008,"g":0.012,"h":0.013},
{"t":"2019-04-24 05","a":0.010,"b":0.008,"c":0.011,"d":0.010,"e":0.012,"f":0.010,"g":0.014,"h":0.012},
{"t":"2019-04-24 07","a":0.018,"b":0.017,"c":0.021,"d":0.020,"e":0.022,"f":0.026,"g":0.0385,"h":0.020},
{"t":"2019-04-24 09","a":0.013,"b":0.011,"c":0.016,"d":0.014,"e":0.017,"f":0.014,"g":0.029,"h":0.0175},
{"t":"2019-04-24 11","a":0.008,"b":0.007,"c":0.011,"d":0.0087,"e":0.012,"f":0.0087,"g":0.024,"h":0.013},
{"t":"2019-04-24 13","a":0.006,"b":0.012,"c":0.013,"d":0.015,"e":0.014,"f":0.010,"g":0.027,"h":0.019},
{"t":"2019-04-24 15","a":0.008,"b":0.016,"c":0.014,"d":0.020,"e":0.016,"f":0.014,"g":0.026,"h":0.0197},
{"t":"2019-04-24 17","a":0.012,"b":0.019,"c":0.016,"d":0.0255,"e":0.018,"f":0.016,"g":0.024,"h":0.0175},
{"t":"2019-04-24 19","a":0.015,"b":0.018,"c":0.019,"d":0.020,"e":0.020,"f":0.018,"g":0.020,"h":0.021},
{"t":"2019-04-24 21","a":0.017,"b":0.020,"c":0.021,"d":0.022,"e":0.021,"f":0.020,"g":0.024,"h":0.0234},
{"t":"2019-04-24 23","a":0.019,"b":0.019,"c":0.020,"d":0.020,"e":0.021,"f":0.019,"g":0.025,"h":0.022},
{"t":"2019-04-25 01","a":0.019,"b":0.016,"c":0.018,"d":0.018,"e":0.019,"f":0.018,"g":0.020,"h":0.019},
{"t":"2019-04-25 03","a":0.018,"b":0.014,"c":0.017,"d":0.016,"e":0.018,"f":0.016,"g":0.029,"h":0.0175},
{"t":"2019-04-25 05","a":0.016,"b":0.012,"c":0.015,"d":0.014,"e":0.016,"f":0.014,"g":0.024,"h":0.015},
{"t":"2019-04-25 07","a":0.014,"b":0.010,"c":0.013,"d":0.012,"e":0.014,"f":0.012,"g":0.018,"h":0.0135},
{"t":"2019-04-25 09","a":0.012,"b":0.008,"c":0.011,"d":0.009,"e":0.012,"f":0.010,"g":0.014,"h":0.012},
{"t":"2019-04-25 11","a":0.010,"b":0.005,"c":0.008,"d":0.006,"e":0.009,"f":0.008,"g":0.010,"h":0.0087},
{"t":"2019-04-25 13","a":0.009,"b":0.004,"c":0.007,"d":0.004,"e":0.008,"f":0.007,"g":0.007,"h":0.013},
{"t":"2019-04-25 15","a":0.010,"b":0.003,"c":0.006,"d":0.0035,"e":0.007,"f":0.006,"g":0.006,"h":0.011},
{"t":"2019-04-25 17","a":0.018,"b":0.012,"c":0.016,"d":0.012,"e":0.017,"f":0.018,"g":0.015,"h":0.020},
{"t":"2019-04-25 19","a":0.031,"b":0.028,"c":0.030,"d":0.030,"e":0.031,"f":0.032,"g":0.028,"h":0.034},
{"t":"2019-04-25 21","a":0.033,"b":0.030,"c":0.033,"d":0.033,"e":0.034,"f":0.0355,"g":0.032,"h":0.033},
{"t":"2019-04-25 23","a":0.029,"b":0.026,"c":0.028,"d":0.028,"e":0.029,"f":0.028,"g":0.030,"h":0.029},
{"t":"2019-04-26 01","a":0.020,"b":0.018,"c":0.020,"d":0.020,"e":0.021,"f":0.020,"g":0.024,"h":0.021},
{"t":"2019-04-26 03","a":0.019,"b":0.017,"c":0.019,"d":0.019,"e":0.020,"f":0.019,"g":0.022,"h":0.020},
{"t":"2019-04-26 05","a":0.020,"b":0.017,"c":0.019,"d":0.019,"e":0.020,"f":0.019,"g":0.028,"h":0.0197},
{"t":"2019-04-26 07","a":0.021,"b":0.015,"c":0.017,"d":0.016,"e":0.018,"f":0.017,"g":0.033,"h":0.017},
{"t":"2019-04-26 09","a":0.024,"b":0.013,"c":0.016,"d":0.015,"e":0.017,"f":0.016,"g":0.028,"h":0.016},
{"t":"2019-04-26 11","a":0.018,"b":0.010,"c":0.013,"d":0.012,"e":0.015,"f":0.014,"g":0.026,"h":0.0116},
{"t":"2019-04-26 13","a":0.015,"b":0.008,"c":0.011,"d":0.010,"e":0.012,"f":0.012,"g":0.030,"h":0.0087},
{"t":"2019-04-26 15","a":0.013,"b":0.006,"c":0.009,"d":0.008,"e":0.010,"f":0.008,"g":0.022,"h":0.013},
{"t":"2019-04-26 17","a":0.015,"b":0.008,"c":0.011,"d":0.010,"e":0.012,"f":0.010,"g":0.018,"h":0.018},
{"t":"2019-04-26 19","a":0.012,"b":0.004,"c":0.008,"d":0.005,"e":0.010,"f":0.008,"g":0.016,"h":0.016},
{"t":"2019-04-26 21","a":0.009,"b":0.003,"c":0.007,"d":0.004,"e":0.008,"f":0.006,"g":0.013,"h":0.011},
{"t":"2019-04-26 23","a":0.008,"b":0.003,"c":0.007,"d":0.004,"e":0.008,"f":0.006,"g":0.010,"h":0.0123},
{"t":"2019-04-27 01","a":0.010,"b":0.004,"c":0.008,"d":0.005,"e":0.009,"f":0.008,"g":0.012,"h":0.0153},
{"t":"2019-04-27 03","a":0.014,"b":0.011,"c":0.014,"d":0.012,"e":0.015,"f":0.014,"g":0.018,"h":0.0175},
{"t":"2019-04-27 05","a":0.015,"b":0.010,"c":0.013,"d":0.010,"e":0.015,"f":0.013,"g":0.023,"h":0.020},
{"t":"2019-04-27 07","a":0.009,"b":0.003,"c":0.007,"d":0.003,"e":0.008,"f":0.007,"g":0.012,"h":0.013},
{"t":"2019-04-27 09","a":0.007,"b":0.0025,"c":0.005,"d":0.0028,"e":0.006,"f":0.005,"g":0.007,"h":0.009},
{"t":"2019-04-27 11","a":0.007,"b":0.0025,"c":0.005,"d":0.0025,"e":0.006,"f":0.0057,"g":0.0072,"h":0.011},
{"t":"2019-04-27 13","a":0.008,"b":0.003,"c":0.006,"d":0.0028,"e":0.007,"f":0.006,"g":0.009,"h":0.012},
{"t":"2019-04-27 15","a":0.014,"b":0.008,"c":0.012,"d":0.008,"e":0.013,"f":0.012,"g":0.018,"h":0.018},
{"t":"2019-04-27 17","a":0.030,"b":0.027,"c":0.030,"d":0.028,"e":0.031,"f":0.030,"g":0.026,"h":0.0337},
{"t":"2019-04-27 19","a":0.031,"b":0.029,"c":0.031,"d":0.030,"e":0.032,"f":0.032,"g":0.030,"h":0.033},
{"t":"2019-04-27 21","a":0.029,"b":0.027,"c":0.029,"d":0.028,"e":0.030,"f":0.029,"g":0.028,"h":0.030},
{"t":"2019-04-27 23","a":0.026,"b":0.023,"c":0.025,"d":0.024,"e":0.026,"f":0.025,"g":0.024,"h":0.027},
{"t":"2019-04-28 01","a":0.022,"b":0.020,"c":0.023,"d":0.022,"e":0.023,"f":0.022,"g":0.024,"h":0.0226},
{"t":"2019-04-28 03","a":0.019,"b":0.017,"c":0.019,"d":0.019,"e":0.019,"f":0.018,"g":0.021,"h":0.019},
{"t":"2019-04-28 05","a":0.016,"b":0.014,"c":0.016,"d":0.016,"e":0.016,"f":0.015,"g":0.019,"h":0.017},
{"t":"2019-04-28 07","a":0.011,"b":0.008,"c":0.010,"d":0.010,"e":0.011,"f":0.009,"g":0.014,"h":0.012},
{"t":"2019-04-28 09","a":0.008,"b":0.005,"c":0.007,"d":0.007,"e":0.008,"f":0.006,"g":0.010,"h":0.0094},
{"t":"2019-04-28 11","a":0.007,"b":0.0043,"c":0.006,"d":0.0072,"e":0.007,"f":0.005,"g":0.008,"h":0.008},
{"t":"2019-04-28 13","a":0.006,"b":0.004,"c":0.006,"d":0.006,"e":0.007,"f":0.0045,"g":0.008,"h":0.009},
{"t":"2019-04-28 15","a":0.009,"b":0.007,"c":0.010,"d":0.010,"e":0.010,"f":0.004,"g":0.012,"h":0.013},
{"t":"2019-04-28 17","a":0.028,"b":0.025,"c":0.040,"d":0.028,"e":0.030,"f":0.026,"g":0.026,"h":0.030},
{"t":"2019-04-28 19","a":0.034,"b":0.031,"c":0.036,"d":0.032,"e":0.035,"f":0.034,"g":0.030,"h":0.0366},
{"t":"2019-04-28 21","a":0.030,"b":0.028,"c":0.031,"d":0.030,"e":0.031,"f":0.030,"g":0.0395,"h":0.032},
{"t":"2019-04-28 23","a":0.025,"b":0.022,"c":0.025,"d":0.024,"e":0.025,"f":0.023,"g":0.030,"h":0.026},
{"t":"2019-04-29 01","a":0.023,"b":0.020,"c":0.024,"d":0.022,"e":0.024,"f":0.023,"g":0.026,"h":0.0234},
{"t":"2019-04-29 03","a":0.022,"b":0.019,"c":0.023,"d":0.021,"e":0.022,"f":0.022,"g":0.022,"h":0.022},
{"t":"2019-04-29 05","a":0.024,"b":0.021,"c":0.026,"d":0.023,"e":0.025,"f":0.024,"g":0.034,"h":0.024},
{"t":"2019-04-29 07","a":0.029,"b":0.026,"c":0.031,"d":0.028,"e":0.030,"f":0.029,"g":0.039,"h":0.030},
{"t":"2019-04-29 09","a":0.040,"b":0.040,"c":0.040,"d":0.045,"e":0.042,"f":0.045,"g":0.065,"h":0.0526},
{"t":"2019-04-29 11","a":0.014,"b":0.005,"c":0.012,"d":0.006,"e":0.012,"f":0.010,"g":0.014,"h":0.015},
{"t":"2019-04-29 13","a":0.012,"b":0.003,"c":0.010,"d":0.0028,"e":0.010,"f":0.009,"g":0.008,"h":0.020},
{"t":"2019-04-29 15","a":0.011,"b":0.004,"c":0.015,"d":0.0025,"e":0.014,"f":0.013,"g":0.010,"h":0.0234},
{"t":"2019-04-29 17","a":0.022,"b":0.015,"c":0.035,"d":0.010,"e":0.025,"f":0.022,"g":0.025,"h":0.0337},
{"t":"2019-04-29 19","a":0.027,"b":0.026,"c":0.031,"d":0.028,"e":0.028,"f":0.026,"g":0.030,"h":0.030},
{"t":"2019-04-29 21","a":0.025,"b":0.023,"c":0.028,"d":0.025,"e":0.026,"f":0.024,"g":0.028,"h":0.029},
{"t":"2019-04-29 23","a":0.022,"b":0.020,"c":0.024,"d":0.022,"e":0.023,"f":0.022,"g":0.024,"h":0.026},
{"t":"2019-04-30 01","a":0.022,"b":0.019,"c":0.021,"d":0.022,"e":0.021,"f":0.020,"g":0.024,"h":0.021},
{"t":"2019-04-30 03","a":0.018,"b":0.015,"c":0.017,"d":0.018,"e":0.018,"f":0.017,"g":0.020,"h":0.018},
{"t":"2019-04-30 05","a":0.022,"b":0.018,"c":0.021,"d":0.021,"e":0.022,"f":0.022,"g":0.025,"h":0.021},
{"t":"2019-04-30 07","a":0.029,"b":0.024,"c":0.028,"d":0.028,"e":0.029,"f":0.032,"g":0.040,"h":0.030},
{"t":"2019-04-30 09","a":0.025,"b":0.020,"c":0.023,"d":0.026,"e":0.024,"f":0.026,"g":0.030,"h":0.026},
{"t":"2019-04-30 11","a":0.021,"b":0.0095,"c":0.018,"d":0.022,"e":0.019,"f":0.020,"g":0.028,"h":0.022},
{"t":"2019-04-30 13","a":0.019,"b":0.012,"c":0.016,"d":0.025,"e":0.017,"f":0.016,"g":0.037,"h":0.020},
{"t":"2019-04-30 15","a":0.016,"b":0.011,"c":0.013,"d":0.020,"e":0.013,"f":0.012,"g":0.030,"h":0.0175},
{"t":"2019-04-30 17","a":0.014,"b":0.010,"c":0.011,"d":0.016,"e":0.013,"f":0.009,"g":0.026,"h":0.016},
{"t":"2019-04-30 19","a":0.012,"b":0.009,"c":0.0115,"d":0.013,"e":0.011,"f":0.0087,"g":0.035,"h":0.012},
{"t":"2019-04-30 21","a":0.010,"b":0.011,"c":0.009,"d":0.015,"e":0.010,"f":0.008,"g":0.028,"h":0.018},
{"t":"2019-04-30 23","a":0.009,"b":0.012,"c":0.008,"d":0.018,"e":0.008,"f":0.007,"g":0.030,"h":0.026}
]},
"transform":[{"fold":["a","b","c","d","e","f","g","h"],"as":["k","v"]}],
"mark":{"type":"line","invalid":"break-paths-show-domains"},
"encoding":{
"x":{"field":"t","type":"temporal","scale":{"type":"utc","domain":[{"year":2019,"month":4,"date":1,"utc":true},{"year":2019,"month":5,"date":1,"utc":true}]},
"axis":{"orient":"bottom","values":[{"year":2019,"month":4,"date":8,"utc":true},{"year":2019,"month":4,"date":15,"utc":true},{"year":2019,"month":4,"date":22,"utc":true},{"year":2019,"month":5,"date":1,"utc":true}],"labelExpr":"utcFormat(datum.value,'%-d %a')","tickSize":14,"tickColor":"#555","labelFontSize":22,"labelPadding":3,"labelFlush":false,"labelOverlap":false,"grid":true,"gridColor":"#888","domain":false,"title":"Apr 2019","titleFontSize":22,"titleAnchor":"start","titleAlign":"left","titleX":-18,"titleY":57,"titleBaseline":"middle"}},
"y":{"field":"v","type":"quantitative","scale":{"domain":[-0.0048,0.126],"nice":false,"zero":false},
"axis":{"orient":"left","values":[0,0.02,0.04,0.06,0.08,0.1,0.12],"format":".2f","tickSize":12,"tickColor":"#555","labelFontSize":22,"labelPadding":6,"grid":true,"gridColor":"#888","domain":false,"title":"Volumetric Concentration (ppm)","titleFontSize":19,"titlePadding":16,"titleY":347}},
"color":{"field":"k","type":"nominal","scale":{"domain":["a","b","c","d","e","f","g","h"],"range":["#ff7373","#ffff3c","#80ff80","#8b1cff","#80ffff","#1f8fff","#ff85c2","#000000"]},
"legend":{"orient":"none","legendX":3,"legendY":-146,"direction":"horizontal","columns":2,"gridAlign":"none","columnPadding":6,"rowPadding":-19,"symbolType":"stroke","symbolSize":5041,"symbolStrokeWidth":1.5,"labelFontSize":22.5,"labelOffset":17,"labelLimit":1000,"labelColor":"#000","title":null,"padding":0,
"labelExpr":"datum.value==='a'?'St Peters 3 (St Peters St) NO₂ 1hr Avg':datum.value==='b'?'Barton Park NO₂ 1hr Avg':datum.value==='c'?'Arncliffe 1 (West Botany St) NO₂ 1hr Avg':datum.value==='d'?'Arncliffe 2 (Eve St) NO₂ 1hr Avg':datum.value==='e'?'St Peters 1 (Campbell St) NO₂ 1hr Avg':datum.value==='f'?'St Peters 2 (SPI) NO₂ 1hr Avg':datum.value==='g'?'Kingsgrove 1 (MOC1) NO₂ 1hr Avg':'Kingsgrove 2 (Kingsgrove Rd) NO₂ 1hr Avg'"}},
"strokeWidth":{"condition":{"test":"datum.k==='h'","value":1.3},"value":1.1}
}},
{"data":{"values":[{"goal":0.12}]},
"mark":{"type":"rule","color":"#e02424","strokeWidth":2},
"encoding":{"y":{"field":"goal","type":"quantitative","scale":{"domain":[-0.0048,0.126],"nice":false,"zero":false},"axis":null}}},
{"data":{"format":{"parse":{"t":"utc:'%Y-%m-%d %H'"}},"values":[{"t":"2019-04-01 00","goal":0.12,"label":"Goal: 0.12 ppm"}]},
"mark":{"type":"text","align":"left","baseline":"alphabetic","dx":12,"dy":-6,"color":"#ff0000","fontSize":16.5,"font":"Liberation Sans"},
"encoding":{
"x":{"field":"t","type":"temporal","scale":{"type":"utc","domain":[{"year":2019,"month":4,"date":1,"utc":true},{"year":2019,"month":5,"date":1,"utc":true}]},
"axis":{"orient":"bottom","values":[{"year":2019,"month":4,"date":2,"utc":true},{"year":2019,"month":4,"date":3,"utc":true},{"year":2019,"month":4,"date":4,"utc":true},{"year":2019,"month":4,"date":5,"utc":true},{"year":2019,"month":4,"date":6,"utc":true},{"year":2019,"month":4,"date":7,"utc":true},{"year":2019,"month":4,"date":9,"utc":true},{"year":2019,"month":4,"date":10,"utc":true},{"year":2019,"month":4,"date":11,"utc":true},{"year":2019,"month":4,"date":12,"utc":true},{"year":2019,"month":4,"date":13,"utc":true},{"year":2019,"month":4,"date":14,"utc":true},{"year":2019,"month":4,"date":16,"utc":true},{"year":2019,"month":4,"date":17,"utc":true},{"year":2019,"month":4,"date":18,"utc":true},{"year":2019,"month":4,"date":19,"utc":true},{"year":2019,"month":4,"date":20,"utc":true},{"year":2019,"month":4,"date":21,"utc":true},{"year":2019,"month":4,"date":23,"utc":true},{"year":2019,"month":4,"date":24,"utc":true},{"year":2019,"month":4,"date":25,"utc":true},{"year":2019,"month":4,"date":26,"utc":true},{"year":2019,"month":4,"date":27,"utc":true},{"year":2019,"month":4,"date":28,"utc":true},{"year":2019,"month":4,"date":29,"utc":true},{"year":2019,"month":4,"date":30,"utc":true}],"tickSize":-10,"tickColor":"#999","labels":false,"domain":false,"grid":false,"title":null}},
"y":{"field":"goal","type":"quantitative","scale":{"domain":[-0.0048,0.126],"nice":false,"zero":false},
"axis":{"orient":"left","values":[0.005,0.01,0.015,0.025,0.03,0.035,0.045,0.05,0.055,0.065,0.07,0.075,0.085,0.09,0.095,0.105,0.11,0.115],"tickSize":-12,"tickColor":"#d4d4d4","labels":false,"domain":false,"grid":false,"title":null}},
"text":{"field":"label"}}}
],
"resolve":{"axis":{"x":"independent","y":"independent"}}
}
